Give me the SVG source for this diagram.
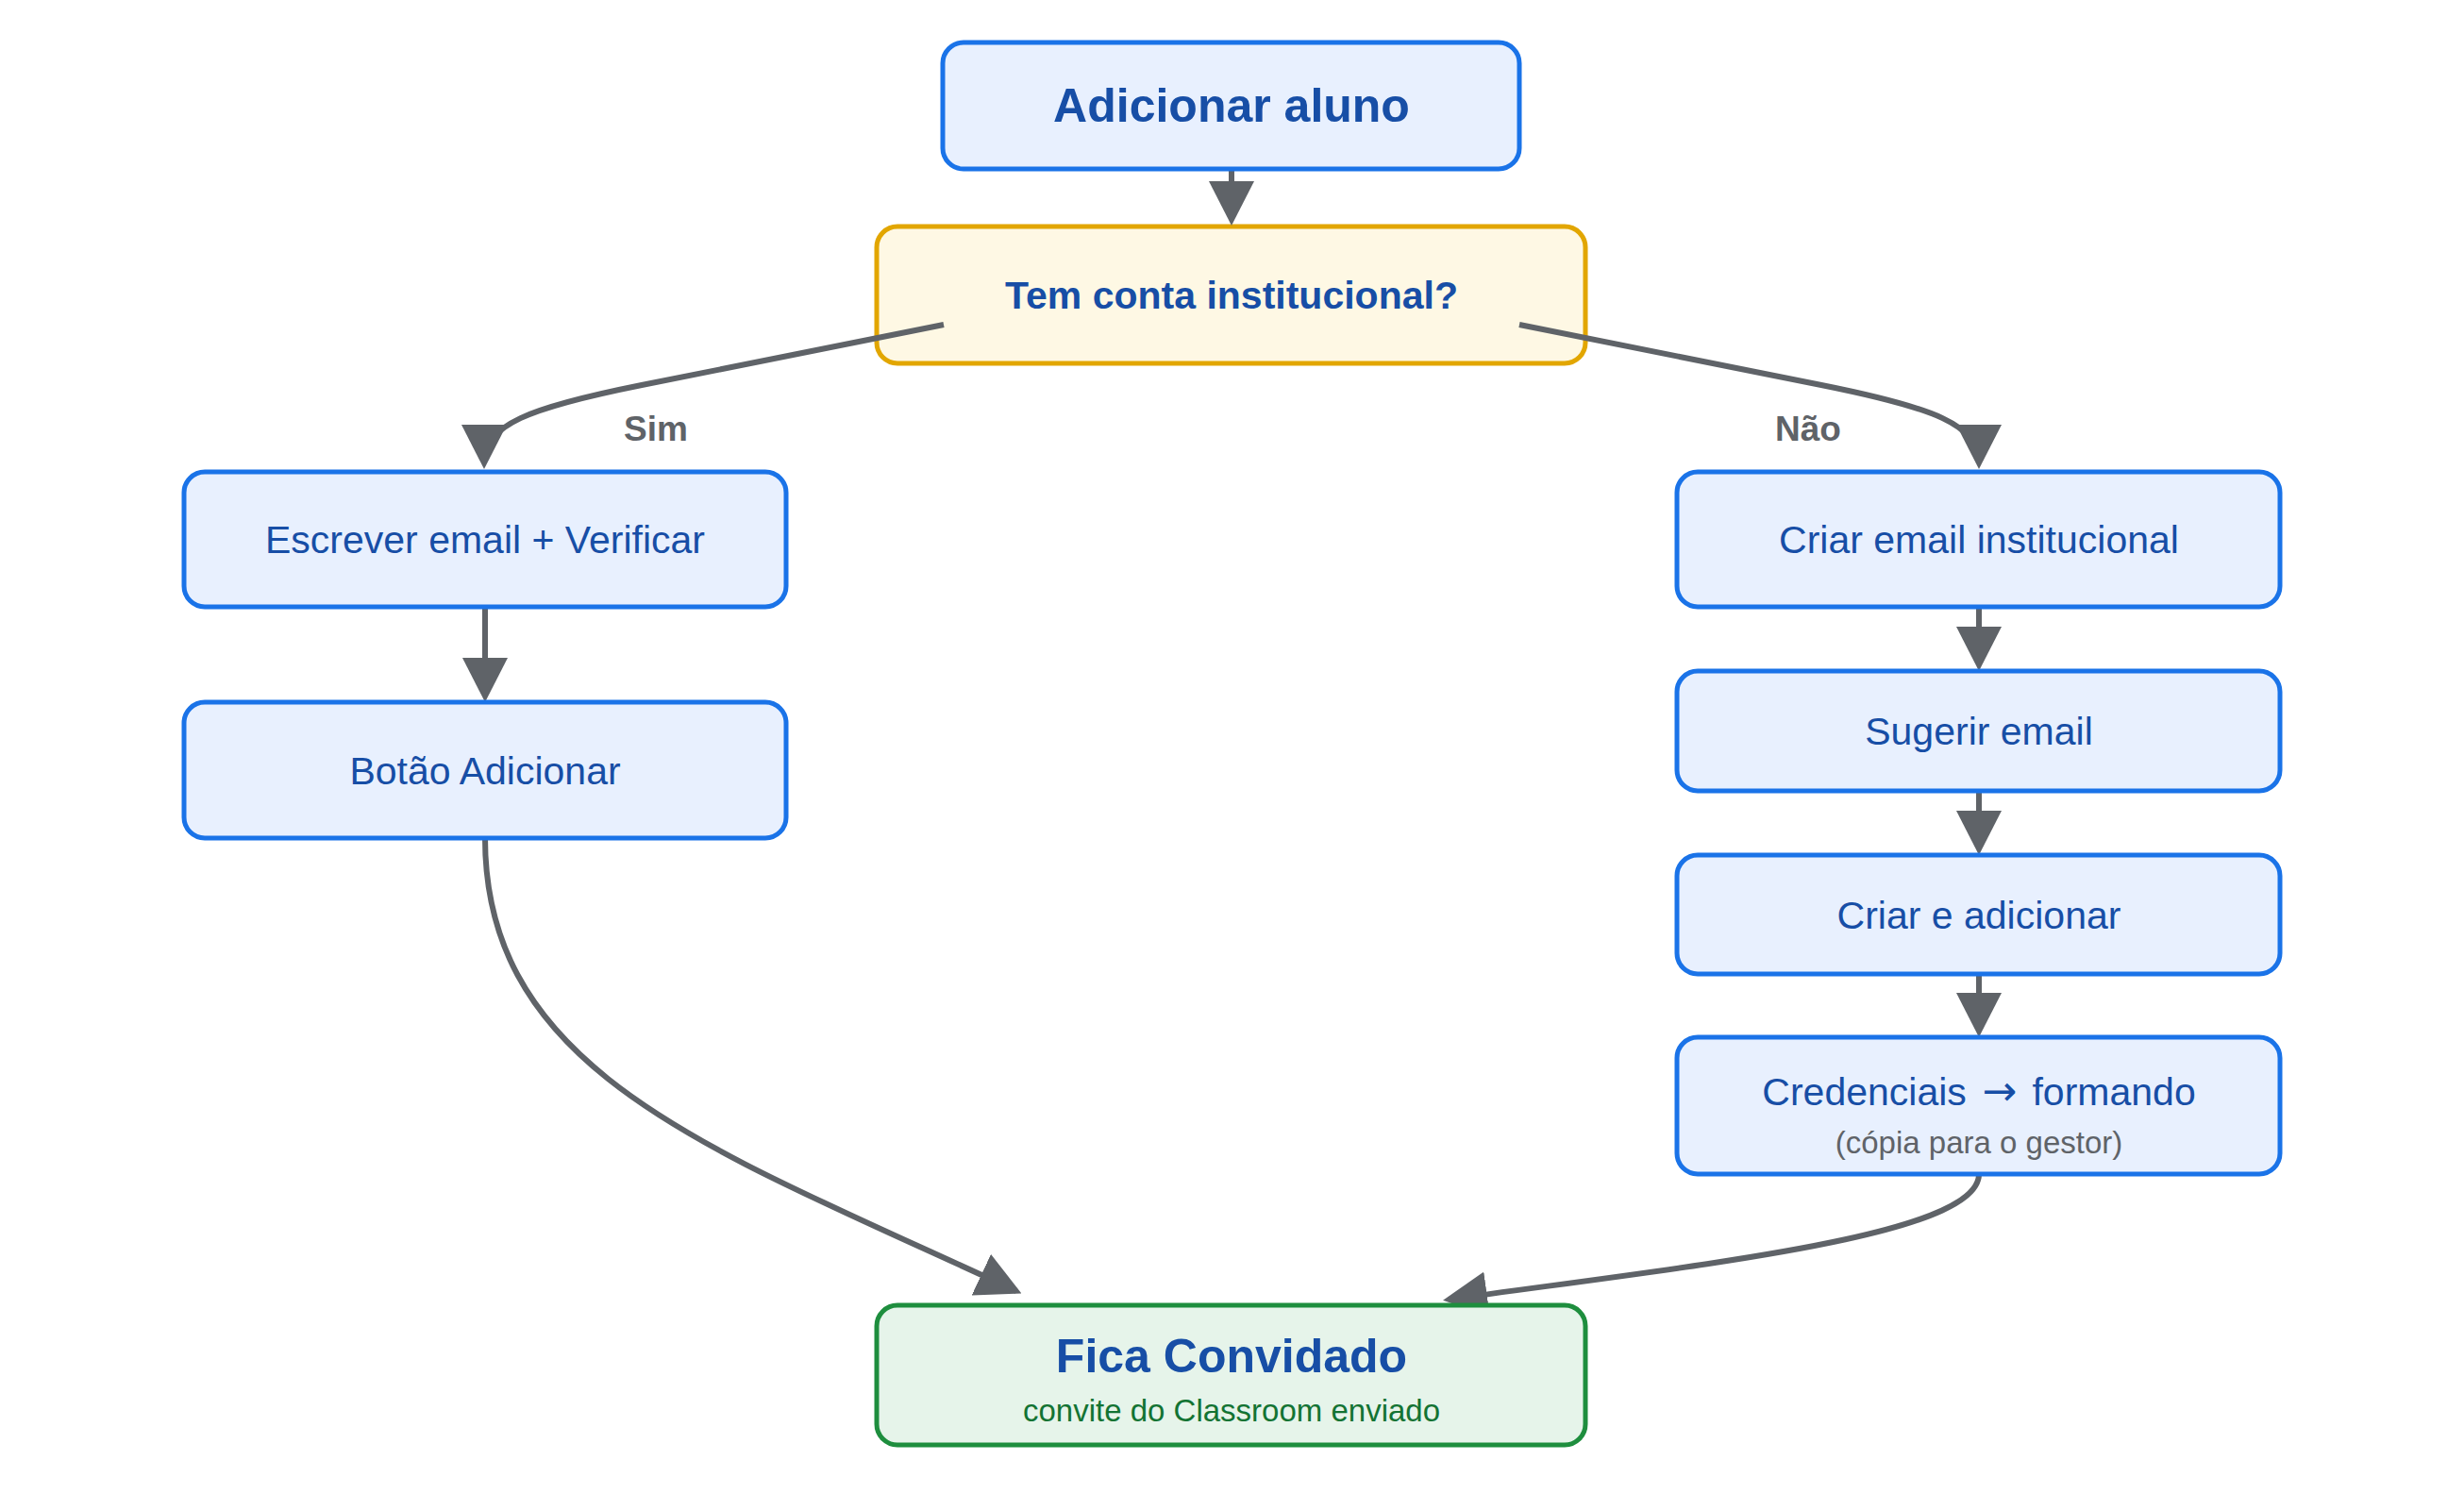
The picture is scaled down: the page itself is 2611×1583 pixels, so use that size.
<svg xmlns="http://www.w3.org/2000/svg" width="2611" height="1583" viewBox="0 0 2611 1583">
<style>
  .t { font-family: "Liberation Sans", Arial, Helvetica, sans-serif; text-anchor: middle; }
  .box { fill: #e8f0fe; stroke: #1a73e8; stroke-width: 5; }
  .dec { fill: #fef8e4; stroke: #e2a600; stroke-width: 5; }
  .end { fill: #e6f4ea; stroke: #1e8e3e; stroke-width: 5; }
  .title { font-size: 50px; font-weight: bold; fill: #174ea6; }
  .q { font-size: 41px; font-weight: bold; fill: #174ea6; }
  .lbl { font-size: 41px; fill: #174ea6; }
  .sub { font-size: 33px; fill: #5f6368; }
  .subg { font-size: 33px; fill: #137333; }
  .elbl { font-size: 37px; font-weight: bold; fill: #5f6368; }
  .edge { fill: none; stroke: #5f6368; stroke-width: 6; }
  .arr { font-family: "DejaVu Sans", sans-serif; font-size: 44px; }
</style>
<defs>
  <marker id="arrow" markerUnits="userSpaceOnUse" viewBox="0 0 47 48" markerWidth="47" markerHeight="48" refX="41" refY="24" orient="auto">
    <path d="M0,0 L47,24 L0,48 z" fill="#5f6368"/>
  </marker>
</defs>
<rect width="2611" height="1583" fill="#ffffff"/>

<g id="n-tem-conta">
  <rect class="dec" x="929" y="240" width="751" height="145" rx="22"/>
  <text class="t q" x="1305" y="327">Tem conta institucional?</text>
</g>

<g id="connectors">
  <path class="edge" d="M1305,179 L1305,233" marker-end="url(#arrow)"/>
  <path class="edge" d="M1000,344 L680,408 C560,432 513,450 513,491" marker-end="url(#arrow)"/>
  <path class="edge" d="M1610,344 L1930,408 C2050,432 2097,450 2097,491" marker-end="url(#arrow)"/>
  <path class="edge" d="M514,643 L514,738" marker-end="url(#arrow)"/>
  <path class="edge" d="M2097,643 L2097,705" marker-end="url(#arrow)"/>
  <path class="edge" d="M2097,838 L2097,900" marker-end="url(#arrow)"/>
  <path class="edge" d="M2097,1032 L2097,1093" marker-end="url(#arrow)"/>
  <path class="edge" d="M514,888 C514,1140 760,1220 1077,1368" marker-end="url(#arrow)"/>
  <path class="edge" d="M2097,1244 C2097,1310 1800,1340 1535,1377" marker-end="url(#arrow)"/>
  <text class="t elbl" x="695" y="467">Sim</text>
  <text class="t elbl" x="1916" y="467">Não</text>
</g>

<g id="n-adicionar">
  <rect class="box" x="999" y="45" width="611" height="134" rx="22"/>
  <text class="t title" x="1305" y="129">Adicionar aluno</text>
</g>
<g id="n-escrever">
  <rect class="box" x="195" y="500" width="638" height="143" rx="22"/>
  <text class="t lbl" x="514" y="586">Escrever email + Verificar</text>
</g>
<g id="n-botao">
  <rect class="box" x="195" y="744" width="638" height="144" rx="22"/>
  <text class="t lbl" x="514" y="831">Botão Adicionar</text>
</g>
<g id="n-criar-email">
  <rect class="box" x="1777" y="500" width="639" height="143" rx="22"/>
  <text class="t lbl" x="2097" y="586">Criar email institucional</text>
</g>
<g id="n-sugerir">
  <rect class="box" x="1777" y="711" width="639" height="127" rx="22"/>
  <text class="t lbl" x="2097" y="789">Sugerir email</text>
</g>
<g id="n-criar-adicionar">
  <rect class="box" x="1777" y="906" width="639" height="126" rx="22"/>
  <text class="t lbl" x="2097" y="984">Criar e adicionar</text>
</g>
<g id="n-credenciais">
  <rect class="box" x="1777" y="1099" width="639" height="145" rx="22"/>
  <text class="t lbl" x="2097" y="1171" word-spacing="5">Credenciais <tspan class="arr">→</tspan> formando</text>
  <text class="t sub" x="2097" y="1222">(cópia para o gestor)</text>
</g>
<g id="n-fica">
  <rect class="end" x="929" y="1383" width="751" height="148" rx="22"/>
  <text class="t title" x="1305" y="1454">Fica Convidado</text>
  <text class="t subg" x="1305" y="1506">convite do Classroom enviado</text>
</g>
</svg>
